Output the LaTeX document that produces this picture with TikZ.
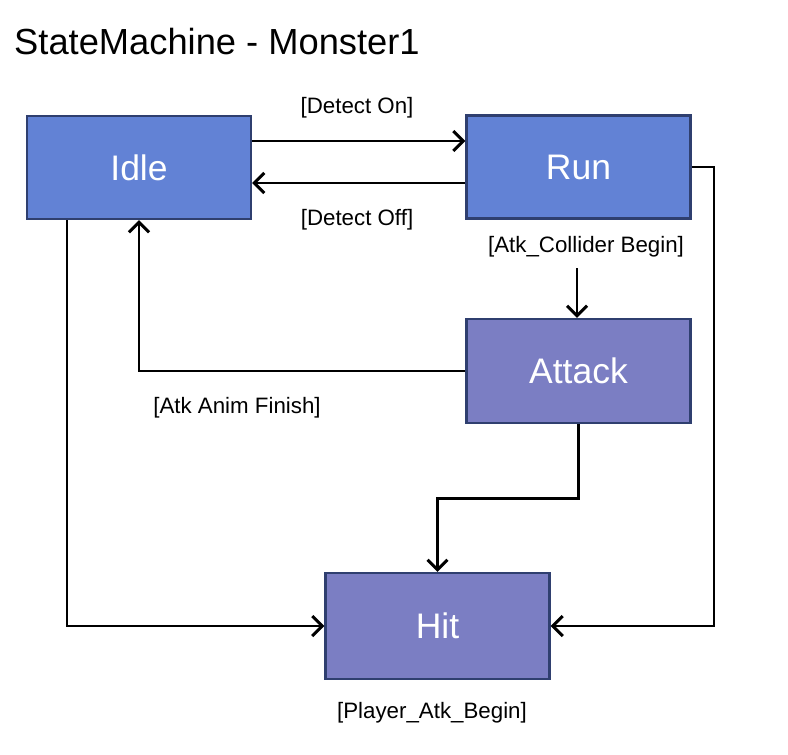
\documentclass[tikz,border=0pt]{standalone}
\usepackage{fontspec}
\setmainfont{Liberation Sans}
\usetikzlibrary{arrows.meta}
\definecolor{bluefill}{HTML}{6282D5}
\definecolor{violetfill}{HTML}{7B7EC3}
\definecolor{boxborder}{HTML}{2F3F6F}
\begin{document}
\begin{tikzpicture}[x=1pt,y=-1pt,
  statebox/.style={draw=boxborder,line width=2.4pt,text=white,
    minimum width=224pt,minimum height=103pt,inner sep=0pt,
    font=\fontsize{35.5}{40}\selectfont},
  arr/.style={line width=2.9pt,-{Straight Barb[length=10pt,width=20pt]}},
  lbl/.style={font=\fontsize{22.3}{26}\selectfont,inner sep=0pt}]
\fill[white] (0,0) rectangle (788,755);
\useasboundingbox (0,0) rectangle (788,755);
\node[anchor=west,inner sep=0pt,font=\fontsize{36.3}{40}\selectfont] (title) at (14,42) {StateMachine - Monster1};
\node[statebox,fill=bluefill] (idle) at (139,167.5) {Idle};
\node[statebox,fill=bluefill] (run) at (578.5,167) {Run};
\node[statebox,fill=violetfill,minimum height=104pt] (attack) at (578.5,371) {Attack};
\node[statebox,fill=violetfill,minimum height=106pt] (hit) at (437.5,626) {Hit};
\node[lbl] (lon) at (357,108) {[Detect On]};
\node[lbl] (loff) at (357,220) {[Detect Off]};
\node[lbl] (lcol) at (586,247) {[Atk\_Collider Begin]};
\node[lbl] (lfin) at (237,408) {[Atk Anim Finish]};
\node[lbl] (lpl) at (432,713) {[Player\_Atk\_Begin]};
\coordinate (rc) at (714,0);
\coordinate (ac) at (577,268);
\draw[arr] ([yshift=26.5pt]idle.east) -- ([yshift=26.5pt]idle.east -| run.west);
\draw[arr] ([yshift=-16pt]run.west) -- ([yshift=-16pt]run.west -| idle.east);
\draw[arr] (run.east) -| (rc |- hit.east) -- (hit.east);
\draw[arr] (ac) -- (ac |- attack.north);
\draw[arr] (attack.west) -| (idle.south);
\draw[arr] (attack.south) -- ++(0,74) -| (hit.north);
\draw[arr] ([xshift=-72pt]idle.south) |- (hit.west);
\end{tikzpicture}
\end{document}
